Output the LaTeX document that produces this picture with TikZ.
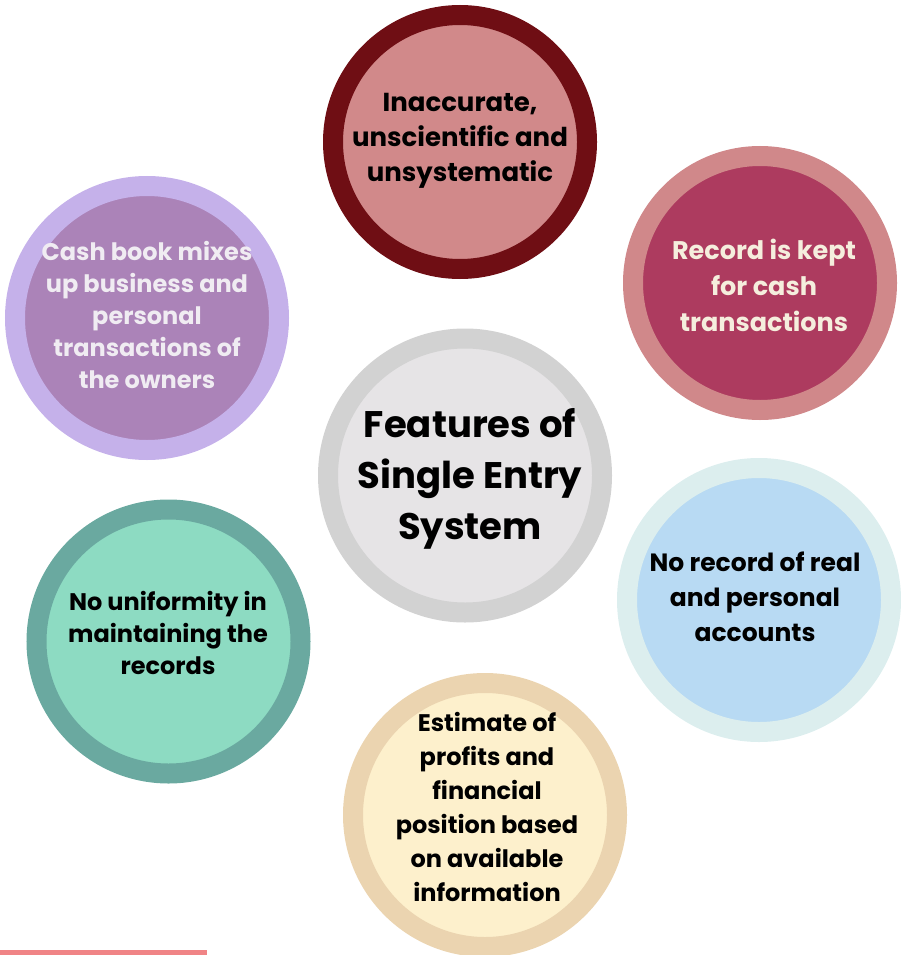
\documentclass[tikz,border=0pt]{standalone}
\usepackage{fontspec}
\setmainfont{Poppins}
\definecolor{topO}{HTML}{6F0E14}
\definecolor{topI}{HTML}{D1898A}
\definecolor{recO}{HTML}{D0888A}
\definecolor{recI}{HTML}{AD3B5F}
\definecolor{recT}{HTML}{F5EEDD}
\definecolor{cashO}{HTML}{C5B1EA}
\definecolor{cashI}{HTML}{AB83B8}
\definecolor{cashT}{HTML}{F0ECF2}
\definecolor{cenO}{HTML}{D2D2D2}
\definecolor{cenI}{HTML}{E6E4E6}
\definecolor{realO}{HTML}{DCEEEE}
\definecolor{realI}{HTML}{B8DAF3}
\definecolor{uniO}{HTML}{6AA9A0}
\definecolor{uniI}{HTML}{8DDBC2}
\definecolor{estO}{HTML}{EBD4B0}
\definecolor{estI}{HTML}{FDF0CC}
\definecolor{barC}{HTML}{F08486}
\begin{document}
\begin{tikzpicture}[x=1pt,y=-1pt,
  ring/.style={circle, inner sep=0pt, line width=20pt, minimum size=#1},
  lbl/.style n args={2}{align=center, inner sep=0pt, font=\bfseries\fontsize{#1}{#2}\selectfont}]
\useasboundingbox (0,0) rectangle (901,955);
% circles
\node[ring=264pt, draw=cashO, fill=cashI] (c3) at (147,318) {};
\node[ring=254pt, draw=topO, fill=topI] (c1) at (460,142) {};
\node[ring=254pt, draw=recO, fill=recI] (c2) at (760,283) {};
\node[ring=274pt, draw=cenO, fill=cenI] (c4) at (465,475.5) {};
\node[ring=264pt, draw=uniO, fill=uniI] (c6) at (168.5,641.5) {};
\node[ring=264pt, draw=realO, fill=realI] (c5) at (759,600) {};
\node[ring=264pt, draw=estO, fill=estI] (c7) at (485,815) {};
% texts
\node[lbl={26}{35}, text=black] (t1) at (460,141) {Inaccurate,\\unscientific and\\unsystematic};
\node[lbl={25.5}{36}, text=recT] (t2) at (764,285.5) {Record is kept\\for cash\\transactions};
\node[lbl={24}{32}, text=cashT] (t3) at (147,315) {Cash book mixes\\up business and\\personal\\transactions of\\the owners};
\node[lbl={37}{51}, text=black] (t4) at (470,478.5) {Features of\\Single Entry\\System};
\node[lbl={25}{35}, text=black] (t5) at (755,596.5) {No record of real\\and personal\\accounts};
\node[lbl={24}{32}, text=black] (t6) at (168,632.5) {No uniformity in\\maintaining the\\records};
\node[lbl={24}{34}, text=black] (t7) at (487,807) {Estimate of\\profits and\\financial\\position based\\on available\\information};
% bottom bar
\fill[barC] (0,950) rectangle (207,955);
\end{tikzpicture}
\end{document}
